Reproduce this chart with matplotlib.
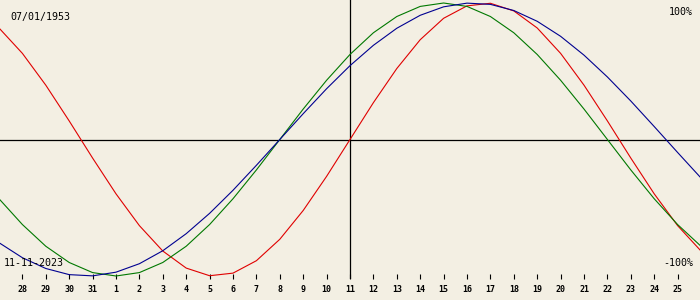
import matplotlib
matplotlib.use("Agg")
import matplotlib.pyplot as plt

# day offsets relative to 11-11-2023 (Oct 27 .. Nov 26)
day_offset = list(range(-15, 16))
physical = [0.817, 0.631, 0.398, 0.136, -0.136, -0.398, -0.631, -0.817, -0.942, -0.998,
            -0.979, -0.888, -0.731, -0.520, -0.270, 0.0, 0.270, 0.520, 0.731, 0.888,
            0.979, 0.998, 0.942, 0.817, 0.631, 0.398, 0.136, -0.136, -0.398, -0.631, -0.817]
emotional = [-0.434, -0.623, -0.782, -0.901, -0.975, -1.0, -0.975, -0.901, -0.782, -0.623,
             -0.434, -0.223, 0.0, 0.223, 0.434, 0.623, 0.782, 0.901, 0.975, 1.0,
             0.975, 0.901, 0.782, 0.623, 0.434, 0.223, 0.0, -0.223, -0.434, -0.623, -0.782]
intellectual = [-0.756, -0.866, -0.945, -0.990, -0.999, -0.972, -0.910, -0.815, -0.690, -0.541,
                -0.372, -0.189, 0.0, 0.189, 0.372, 0.541, 0.690, 0.815, 0.910, 0.972,
                0.999, 0.990, 0.945, 0.866, 0.756, 0.618, 0.458, 0.282, 0.095, -0.095, -0.282]

tick_offsets = list(range(-14, 15))
tick_labels = ["28", "29", "30", "31"] + [str(d) for d in range(1, 26)]

birth_text = "07/01/1953"
date_text = "11-11-2023"

bg = "#F3EFE3"
W, H = 700, 300
fig = plt.figure(figsize=(W / 100, H / 100), dpi=100, facecolor=bg)
ax = fig.add_axes([0, 21 / H, 1, 279 / H], facecolor=bg)

ax.set_xlim(-14.957, 14.957)
ax.set_ylim(-1.022, 1.022)

ax.axhline(0, color="black", lw=0.9, zorder=1)
ax.axvline(0, color="black", lw=0.9, zorder=1)

lw = 0.8
ax.plot(day_offset, physical, color="#E00000", lw=lw, zorder=3, clip_on=False)
ax.plot(day_offset, emotional, color="#007800", lw=lw, zorder=3, clip_on=False)
ax.plot(day_offset, intellectual, color="#000090", lw=lw, zorder=3, clip_on=False)

for s in ax.spines.values():
    s.set_visible(False)
ax.set_yticks([])
ax.set_xticks(tick_offsets)
ax.set_xticklabels(tick_labels, family="DejaVu Sans Mono", fontsize=6, fontweight="bold")
ax.tick_params(axis="x", direction="in", length=3.6, width=0.8, color="black", pad=4.3)

font = dict(family="DejaVu Sans Mono", fontsize=7.2, color="black")
fig.text(10 / W, 1 - 17 / H, birth_text, ha="left", va="center", **font)
fig.text(693 / W, 1 - 12 / H, "100%", ha="right", va="center", **font)
fig.text(4 / W, 1 - 263 / H, date_text, ha="left", va="center", **font)
fig.text(693 / W, 1 - 263 / H, "-100%", ha="right", va="center", **font)

fig.savefig("out.png", dpi=100, facecolor=bg)
